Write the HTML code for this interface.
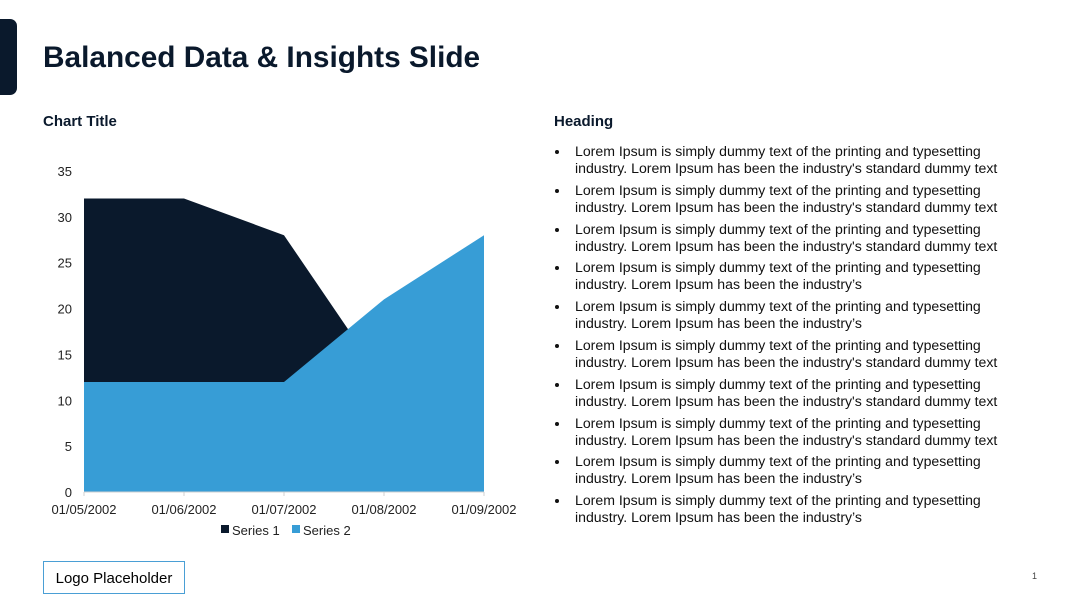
<!DOCTYPE html>
<html><head><meta charset="utf-8"><style>
body{margin:0;width:1080px;height:608px;background:#fff;font-family:"Liberation Sans",sans-serif;position:relative;overflow:hidden;color:#000}
.abs{position:absolute}
#bar{left:0;top:19px;width:17px;height:76px;background:#0a192c;border-radius:0 7px 7px 0}
#title{left:43px;top:41px;font-size:29.8px;font-weight:bold;color:#0a192c;white-space:nowrap}
#ct{left:43px;top:113px;font-size:15px;font-weight:bold;color:#0a192c}
#hd{left:554px;top:113px;font-size:15px;font-weight:bold;color:#0a192c}
ul{position:absolute;left:554px;top:143px;margin:0;padding:0;list-style:none;width:480px}
li{position:relative;padding-left:21px;font-size:14.1px;line-height:17px;height:38.8px;color:#111}
li:before{content:"";position:absolute;left:1px;top:7px;width:4px;height:4px;border-radius:50%;background:#111}
#logo{left:43px;top:561px;width:140px;height:31px;border:1px solid #4a9fd5;font-size:15px;line-height:33px;text-align:center}
#pg{left:1032px;top:571px;font-size:9px;color:#444}
svg{position:absolute;left:0;top:0}
</style></head><body>
<div class="abs" id="bar"></div>
<div class="abs" id="title">Balanced Data &amp; Insights Slide</div>
<div class="abs" id="ct">Chart Title</div>
<div class="abs" id="hd">Heading</div>
<ul>
<li>Lorem Ipsum is simply dummy text of the printing and typesetting industry. Lorem Ipsum has been the industry's standard dummy text</li>
<li>Lorem Ipsum is simply dummy text of the printing and typesetting industry. Lorem Ipsum has been the industry's standard dummy text</li>
<li>Lorem Ipsum is simply dummy text of the printing and typesetting industry. Lorem Ipsum has been the industry's standard dummy text</li>
<li>Lorem Ipsum is simply dummy text of the printing and typesetting industry. Lorem Ipsum has been the industry’s</li>
<li>Lorem Ipsum is simply dummy text of the printing and typesetting industry. Lorem Ipsum has been the industry’s</li>
<li>Lorem Ipsum is simply dummy text of the printing and typesetting industry. Lorem Ipsum has been the industry's standard dummy text</li>
<li>Lorem Ipsum is simply dummy text of the printing and typesetting industry. Lorem Ipsum has been the industry's standard dummy text</li>
<li>Lorem Ipsum is simply dummy text of the printing and typesetting industry. Lorem Ipsum has been the industry's standard dummy text</li>
<li>Lorem Ipsum is simply dummy text of the printing and typesetting industry. Lorem Ipsum has been the industry’s</li>
<li>Lorem Ipsum is simply dummy text of the printing and typesetting industry. Lorem Ipsum has been the industry’s</li>
</ul>
<div class="abs" id="logo">Logo Placeholder</div>
<div class="abs" id="pg">1</div>
<svg id="chart" width="1080" height="608"></svg>
<script>
const categories=["01/05/2002","01/06/2002","01/07/2002","01/08/2002","01/09/2002"];
const series1=[32,32,28,12,15];
const series2=[12,12,12,21,28];
const yTicks=[0,5,10,15,20,25,30,35];
const seriesNames=["Series 1","Series 2"];
const colors=["#0a192c","#379dd6"];
const NS="http://www.w3.org/2000/svg";
const svg=document.getElementById('chart');
const x0=84,dx=100,y0=492,yMax=35,yTop=171;
const xs=i=>x0+i*dx;
const ys=v=>y0-(v/yMax)*(y0-yTop);
function mk(t,a){const e=document.createElementNS(NS,t);for(const k in a)e.setAttribute(k,a[k]);svg.appendChild(e);return e;}
yTicks.forEach(v=>{const t=mk('text',{x:72,y:ys(v)+5,'text-anchor':'end','font-size':13,fill:'#222'});t.textContent=v;

});
[series1,series2].forEach((s,k)=>{let d=`M${xs(0)},${ys(0)}`;s.forEach((v,i)=>d+=` L${xs(i)},${ys(v)}`);d+=` L${xs(s.length-1)},${ys(0)} Z`;
const p=mk('path',{d:d,fill:colors[k]});

});
const ax=mk('line',{x1:x0,x2:xs(categories.length-1),y1:y0,y2:y0,stroke:'#d0d0d0','stroke-width':1});


categories.forEach((c,i)=>{mk('line',{x1:xs(i),x2:xs(i),y1:y0,y2:y0+4,stroke:'#d0d0d0'});
const t=mk('text',{x:xs(i),y:514,'text-anchor':'middle','font-size':13,fill:'#222'});t.textContent=c;

});
const lx=[221,292];
seriesNames.forEach((n,k)=>{const r=mk('rect',{x:lx[k],y:525,width:8,height:8,fill:colors[k]});


const t=mk('text',{x:lx[k]+11,y:535,'font-size':13,fill:'#222'});t.textContent=n;

});
</script>
</body></html>
